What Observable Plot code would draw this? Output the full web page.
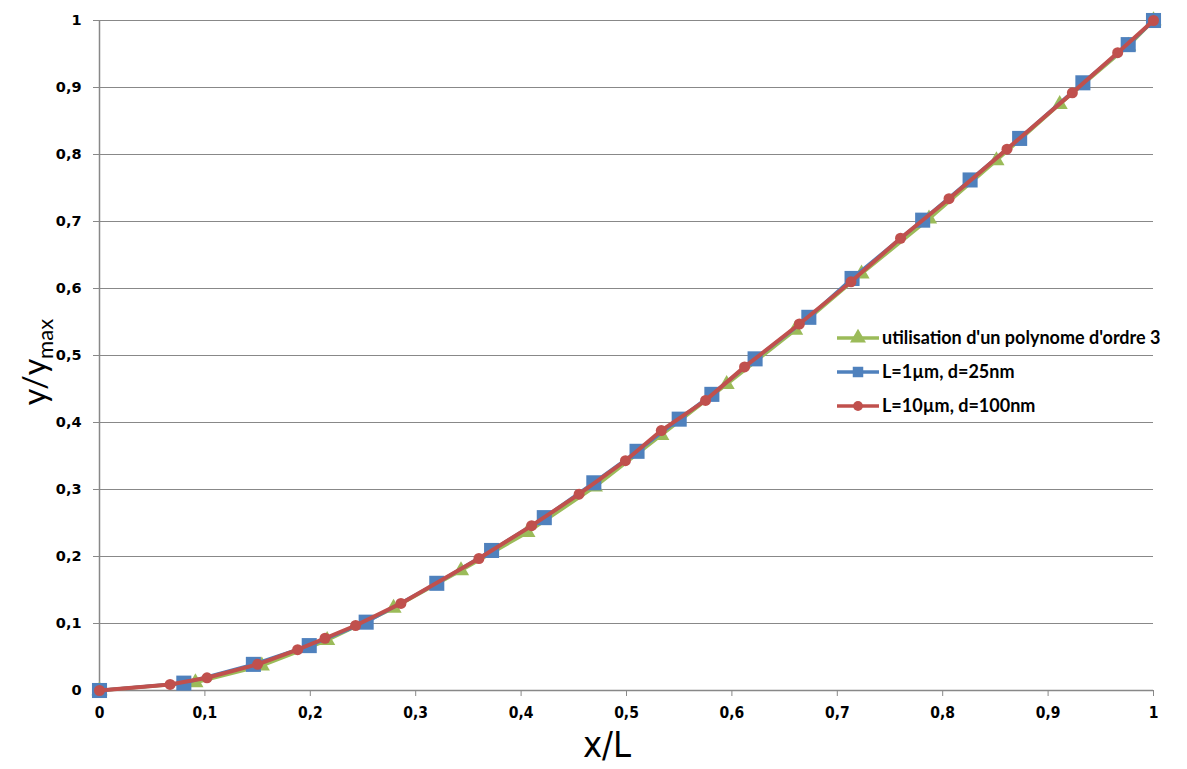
<!DOCTYPE html>
<html><head><meta charset="utf-8">
<script src="https://cdn.jsdelivr.net/npm/d3@7"></script>
<script src="https://cdn.jsdelivr.net/npm/@observablehq/plot@0.6"></script>
<style>
body{margin:0;background:#fff;}
#wrap{position:relative;width:1187px;height:769px;}
</style>
</head><body><div id="wrap"></div>
<script>
// Series: "utilisation d'un polynome d'ordre 3"
const polyX = [0, 0.091, 0.154, 0.216, 0.279, 0.343, 0.406, 0.470, 0.533, 0.595, 0.660, 0.723, 0.787, 0.851, 0.911, 0.976, 1];
const polyY = [0, 0.012, 0.037, 0.075, 0.123, 0.179, 0.236, 0.304, 0.381, 0.457, 0.538, 0.622, 0.704, 0.791, 0.875, 0.962, 1];
// Series: "L=1µm, d=25nm"
const blueX = [0, 0.080, 0.146, 0.199, 0.253, 0.320, 0.372, 0.422, 0.469, 0.510, 0.550, 0.581, 0.622, 0.673, 0.714, 0.781, 0.826, 0.873, 0.933, 0.976, 1];
const blueY = [0, 0.011, 0.039, 0.067, 0.102, 0.160, 0.209, 0.258, 0.310, 0.357, 0.405, 0.442, 0.495, 0.557, 0.615, 0.702, 0.762, 0.824, 0.907, 0.964, 1];
// Series: "L=10µm, d=100nm"
const redX = [0, 0.067, 0.102, 0.150, 0.188, 0.214, 0.243, 0.286, 0.360, 0.410, 0.455, 0.499, 0.533, 0.575, 0.612, 0.664, 0.713, 0.760, 0.806, 0.861, 0.923, 0.966, 1];
const redY = [0, 0.009, 0.019, 0.039, 0.061, 0.078, 0.097, 0.130, 0.197, 0.246, 0.293, 0.343, 0.388, 0.433, 0.483, 0.547, 0.610, 0.675, 0.734, 0.808, 0.892, 0.952, 1];

const seriesNames = ["utilisation d'un polynome d'ordre 3", "L=1\u00b5m, d=25nm", "L=10\u00b5m, d=100nm"];
const seriesColors = ["#9BBB59", "#4F81BD", "#C0504D"];
const xTicks = [0, 0.1, 0.2, 0.3, 0.4, 0.5, 0.6, 0.7, 0.8, 0.9, 1];
const yTicks = [0, 0.1, 0.2, 0.3, 0.4, 0.5, 0.6, 0.7, 0.8, 0.9, 1];
const xLabel = "x/L";

const poly = polyX.map((x, i) => ({x, y: polyY[i]}));
const blue = blueX.map((x, i) => ({x, y: blueY[i]}));
const red = redX.map((x, i) => ({x, y: redY[i]}));
const fmt = d => String(d).replace(".", ",");
const grid = "#888888";

const plot = Plot.plot({
  width: 1187, height: 769,
  marginLeft: 99, marginRight: 34, marginTop: 20, marginBottom: 79,
  style: {background: "#fff", overflow: "visible"},
  x: {domain: [0, 1]},
  y: {domain: [0, 1]},
  marks: [
    Plot.gridY(yTicks.slice(1), {stroke: grid, strokeOpacity: 1, strokeWidth: 1}),
    Plot.ruleX([0], {stroke: grid, strokeWidth: 1.5}),
    Plot.ruleY([0], {stroke: grid, strokeWidth: 1.5}),
    Plot.axisX(xTicks, {tickSize: 6, tickPadding: 10, stroke: grid, fill: "black", tickFormat: fmt, label: null, fontSize: 15, fontWeight: "bold"}),
    Plot.axisY(yTicks, {tickSize: 6, tickPadding: 12, stroke: grid, fill: "black", tickFormat: fmt, label: null, fontSize: 15, fontWeight: "bold"}),
    Plot.line(poly, {x: "x", y: "y", stroke: seriesColors[0], strokeWidth: 3.5}),
    Plot.dot(poly, {x: "x", y: "y", symbol: "triangle", fill: seriesColors[0], r: 6}),
    Plot.line(blue, {x: "x", y: "y", stroke: seriesColors[1], strokeWidth: 3.5}),
    Plot.dot(blue, {x: "x", y: "y", symbol: "square", fill: seriesColors[1], r: 8.5}),
    Plot.line(red, {x: "x", y: "y", stroke: seriesColors[2], strokeWidth: 4}),
    Plot.dot(red, {x: "x", y: "y", symbol: "circle", fill: seriesColors[2], r: 5.5})
  ]
});
document.getElementById("wrap").appendChild(plot);

const svg = d3.select(plot);
// tick label fonts (inline styles)
svg.selectAll("g[aria-label='x-axis tick label'] text")
  .style("font-family", "'DejaVu Sans Condensed', 'Liberation Sans Narrow', sans-serif")
  .style("font-stretch", "condensed")
  .style("font-weight", "bold").style("font-size", "15.5px");
svg.selectAll("g[aria-label='y-axis tick label'] text")
  .style("font-family", "'DejaVu Sans', sans-serif")
  .style("font-weight", "bold").style("font-size", "14.5px");

// axis titles
svg.append("text")
  .attr("x", 607).attr("y", 757)
  .attr("text-anchor", "middle")
  .style("font-family", "'DejaVu Sans Condensed', 'Liberation Sans Narrow', sans-serif")
  .style("font-stretch", "condensed")
  .style("font-size", "36px")
  .attr("fill", "black")
  .text(xLabel);
const yl = svg.append("text")
  .attr("transform", "translate(46,362) rotate(-90)")
  .attr("text-anchor", "middle")
  .style("font-family", "Lato, 'Liberation Sans', sans-serif")
  .style("font-size", "32px")
  .attr("fill", "black");
yl.append("tspan").text("y/y");
yl.append("tspan").style("font-size", "22px").attr("dy", 7).text("max");

// legend
const lg = svg.append("g").attr("transform", "translate(837,0)");
const rowsY = [338, 372, 406];
const syms = ["triangle", "square", "circle"];
seriesNames.forEach((name, i) => {
  const g = lg.append("g").attr("transform", `translate(0,${rowsY[i]})`);
  g.append("line").attr("x1", 0).attr("x2", 42).attr("y1", 0).attr("y2", 0)
    .attr("stroke", seriesColors[i]).attr("stroke-width", 3.5);
  const symType = {triangle: d3.symbolTriangle, square: d3.symbolSquare, circle: d3.symbolCircle}[syms[i]];
  const size = {triangle: 110, square: 110, circle: 75}[syms[i]];
  g.append("path").attr("transform", "translate(21,0)").attr("d", d3.symbol(symType, size)()).attr("fill", seriesColors[i]);
  g.append("text").attr("x", 45).attr("dy", "0.35em")
    .attr("text-anchor", "start")
    .style("font-family", "Lato, 'Open Sans', sans-serif").style("font-weight", "bold").style("font-size", "18px")
    .attr("fill", "black").text(name);
});
</script>
</body></html>
